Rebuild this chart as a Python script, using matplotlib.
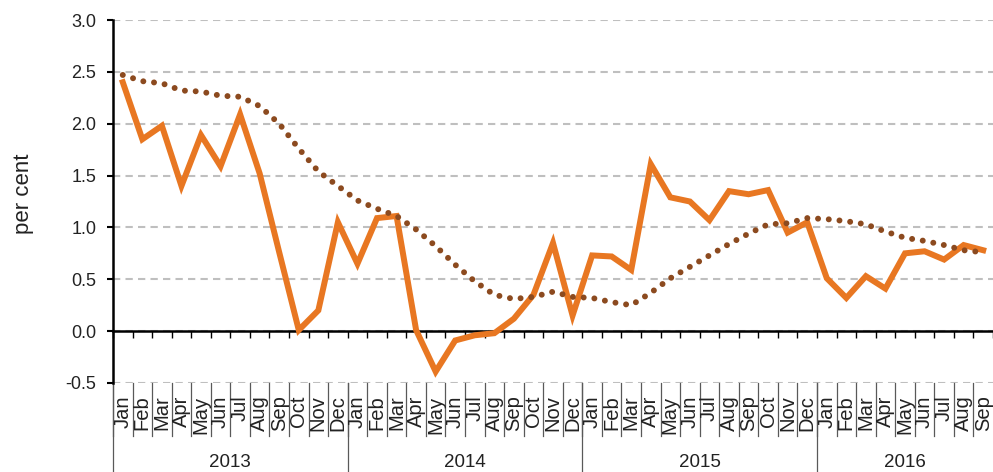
import numpy as np
import matplotlib
matplotlib.use('Agg')
import matplotlib.pyplot as plt
from matplotlib.lines import Line2D
from matplotlib.transforms import blended_transform_factory

plt.rcParams['font.family'] = ['Liberation Sans', 'DejaVu Sans']

months = ['Jan', 'Feb', 'Mar', 'Apr', 'May', 'Jun',
          'Jul', 'Aug', 'Sep', 'Oct', 'Nov', 'Dec']
years = ['2013', '2014', '2015', '2016']
months_per_year = [12, 12, 12, 9]

# monthly series, Jan 2013 - Sep 2016
actual = [2.40, 1.85, 1.98, 1.40, 1.89, 1.59, 2.09, 1.52, 0.76, 0.01, 0.20, 1.05,
          0.65, 1.09, 1.11, 0.01, -0.39, -0.09, -0.04, -0.02, 0.12, 0.35, 0.85, 0.15,
          0.73, 0.72, 0.59, 1.61, 1.29, 1.25, 1.07, 1.35, 1.32, 1.36, 0.95, 1.05,
          0.51, 0.32, 0.53, 0.41, 0.75, 0.77, 0.69, 0.83, 0.78]
trend = [2.47, 2.41, 2.39, 2.32, 2.31, 2.27, 2.26, 2.17, 2.00, 1.76, 1.54, 1.40,
         1.26, 1.18, 1.11, 0.98, 0.82, 0.64, 0.48, 0.35, 0.31, 0.33, 0.38, 0.33,
         0.32, 0.28, 0.25, 0.37, 0.51, 0.62, 0.73, 0.84, 0.94, 1.03, 1.04, 1.09,
         1.08, 1.06, 1.03, 0.96, 0.90, 0.87, 0.83, 0.78, 0.76]

labels = []
for n in months_per_year:
    labels += months[:n]
n = len(labels)
x = np.arange(n) + 0.5

fig = plt.figure(figsize=(9.93, 4.72), dpi=100)
ax = fig.add_axes([0.1138, 0.1886, 0.8862, 0.7690])

ax.set_yticks(np.arange(-0.5, 3.01, 0.5))
ax.yaxis.grid(True, color='#BFBFBF', lw=1.5, linestyle=(0, (3.5, 2.5)))
ax.set_axisbelow(True)

ax.plot(x, actual, color='#E87722', lw=4.3, solid_joinstyle='miter', zorder=3)
ax.plot(x, trend, color='#8C4A1F', lw=4.3, linestyle=(0, (0.001, 1.8)),
        dash_capstyle='round', zorder=4)

for s in ['top', 'right']:
    ax.spines[s].set_visible(False)
ax.spines['bottom'].set_position(('data', 0))
ax.spines['bottom'].set_linewidth(1.8)
ax.spines['left'].set_linewidth(1.8)

ax.set_xticks(np.arange(0, n + 1))
ax.tick_params(axis='x', length=5, width=1, direction='out', labelbottom=False)
ax.tick_params(axis='y', length=4, width=1.5, pad=8, labelsize=13, labelcolor='#222222')
ax.set_yticklabels(['%.1f' % v for v in np.arange(-0.5, 3.01, 0.5)])
fig.text(24 / 993, 1 - 194 / 472, 'per cent', rotation=90, ha='center',
         va='center', fontsize=16, color='#222222')

trans = blended_transform_factory(ax.transData, fig.transFigure)
sep_color = '#595959'
for i, lab in enumerate(labels):
    ax.text(x[i], 0.162, lab, rotation=90, ha='center', va='top', fontsize=14.5,
            color='#222222', transform=trans)
for b in range(n):
    ax.add_line(Line2D([b, b], [0.1886, 0.076], transform=trans, color=sep_color,
                       lw=0.9, clip_on=False))

start = 0
for yr, m in zip(years, months_per_year):
    ax.add_line(Line2D([start, start], [0.1886, 0.0], transform=trans,
                       color=sep_color, lw=0.9, clip_on=False))
    ax.text(start + m / 2, 0.021, yr, ha='center', va='center', fontsize=13.5,
            color='#222222', transform=trans)
    start += m

ax.set_xlim(0, n)
ax.set_ylim(-0.5, 3.0)

fig.savefig('out.png', dpi=100)
